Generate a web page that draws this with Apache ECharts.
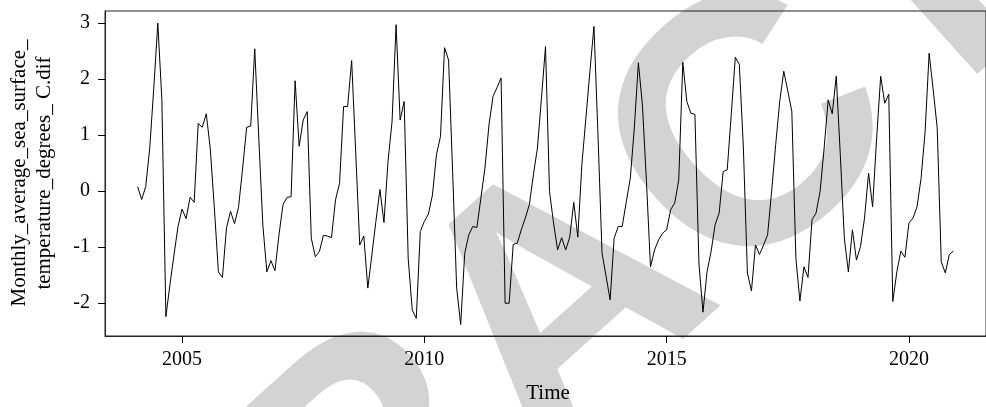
<!DOCTYPE html>
<html>
<head>
<meta charset="utf-8">
<script src="https://cdn.jsdelivr.net/npm/echarts@6/dist/echarts.min.js"></script>
<style>
html,body{margin:0;padding:0;background:#fff;}
#chart{width:986px;height:407px;}
</style>
</head>
<body>
<div id="chart"></div>
<script>
// Monthly series starting Feb 2004
const startYear = 2004;
const startMonth = 2;
const values = [
 0.08,-0.15,0.08,0.77,1.84,3.0,1.63,-2.24,-1.67,-1.14,
 -0.63,-0.32,-0.49,-0.11,-0.20,1.21,1.14,1.38,0.75,-0.30,
 -1.44,-1.54,-0.66,-0.36,-0.58,-0.28,0.41,1.14,1.16,2.54,
 0.95,-0.60,-1.44,-1.24,-1.42,-0.78,-0.24,-0.11,-0.10,1.97,
 0.80,1.27,1.42,-0.84,-1.17,-1.08,-0.79,-0.80,-0.83,-0.155,
 0.14,1.51,1.51,2.33,0.70,-0.96,-0.80,-1.73,-1.14,-0.54,
 0.03,-0.56,0.53,1.24,2.97,1.27,1.60,-1.20,-2.12,-2.27,
 -0.72,-0.54,-0.41,-0.07,0.65,0.98,2.56,2.34,0.35,-1.73,
 -2.38,-1.11,-0.78,-0.63,-0.65,-0.125,0.41,1.18,1.69,1.85,
 2.02,-2.0,-2.0,-0.95,-0.93,-0.69,-0.48,-0.24,0.29,0.77,
 1.66,2.58,-0.01,-0.57,-1.05,-0.83,-1.05,-0.82,-0.20,-0.82,
 0.47,1.30,2.14,2.94,1.0,-1.11,-1.52,-1.94,-0.84,-0.63,
 -0.63,-0.19,0.23,1.13,2.29,1.54,0.17,-1.35,-1.05,-0.87,
 -0.75,-0.69,-0.33,-0.21,0.20,2.30,1.60,1.39,1.37,-1.30,
 -2.16,-1.44,-1.08,-0.60,-0.39,0.35,0.38,1.37,2.39,2.26,
 0.77,-1.46,-1.78,-0.96,-1.13,-0.96,-0.78,0.0,0.83,1.6,
 2.14,1.79,1.42,-1.2,-1.96,-1.35,-1.54,-0.51,-0.39,0.0,
 0.77,1.63,1.38,2.05,0.65,-0.84,-1.44,-0.69,-1.23,-0.99,
 -0.48,0.32,-0.28,0.95,2.05,1.57,1.73,-1.97,-1.44,-1.07,
 -1.18,-0.57,-0.48,-0.28,0.23,1.06,2.46,1.81,1.13,-1.26,
 -1.46,-1.13,-1.07
];
const xTicks = [2005, 2010, 2015, 2020];
const yTicks = [-2, -1, 0, 1, 2, 3];
const xTitle = 'Time';
const yTitle1 = 'Monthly_average_sea_surface_';
const yTitle2 = 'temperature_degrees_ C.dif';
const watermark = 'RETRACTED';

const xMin = 2003.41, xMax = 2021.59;
const yMin = -2.585, yMax = 3.215;

const seriesData = values.map((v, i) => [startYear + (startMonth - 1 + i) / 12, v]);

const serif = "'Liberation Serif', 'DejaVu Serif', serif";
const chart = echarts.init(document.getElementById('chart'), null, {renderer: 'canvas'});
chart.setOption({
  animation: false,
  backgroundColor: '#fff',
  grid: {left: 105, top: 11, right: -6, bottom: 71, show: true, borderColor: '#222', borderWidth: 1, backgroundColor: 'transparent'},
  xAxis: {
    type: 'value', min: xMin, max: xMax,
    axisLine: {show: true, onZero: false, lineStyle: {color: '#222', width: 1}},
    splitLine: {show: false},
    axisTick: {show: true, length: 7, lineStyle: {color: '#000', width: 1}, customValues: xTicks},
    axisLabel: {margin: 14, color: '#000', fontFamily: serif, fontSize: 20, customValues: xTicks, formatter: v => String(v)}
  },
  yAxis: {
    type: 'value', min: yMin, max: yMax,
    axisLine: {show: true, onZero: false, lineStyle: {color: '#222', width: 1}},
    splitLine: {show: false},
    axisTick: {show: true, length: 7, lineStyle: {color: '#000', width: 1}, customValues: yTicks},
    axisLabel: {margin: 15, color: '#000', fontFamily: serif, fontSize: 20, customValues: yTicks, formatter: v => String(v)}
  },
  graphic: {elements: [
    {type: 'text', x: 568, y: 312, rotation: 42 * Math.PI / 180, z: -10, silent: true,
     style: {text: watermark, fill: '#d3d3d3', fontFamily: "'Liberation Sans', Arial, sans-serif", fontWeight: 'bold', fontSize: 352, align: 'center', verticalAlign: 'middle'}},
    {type: 'text', x: 19, y: 173, rotation: Math.PI / 2, z: 10,
     style: {text: yTitle1, fill: '#000', fontFamily: serif, fontSize: 21, align: 'center', verticalAlign: 'middle'}},
    {type: 'text', x: 44, y: 173, rotation: Math.PI / 2, z: 10,
     style: {text: yTitle2, fill: '#000', fontFamily: serif, fontSize: 21, align: 'center', verticalAlign: 'middle'}},
    {type: 'text', x: 548, y: 393, z: 10,
     style: {text: xTitle, fill: '#000', fontFamily: serif, fontSize: 21, align: 'center', verticalAlign: 'middle'}}
  ]},
  series: [{
    type: 'line', data: seriesData, showSymbol: false, symbol: 'none',
    lineStyle: {color: '#000', width: 1}, z: 5
  }]
});
</script>
</body>
</html>
